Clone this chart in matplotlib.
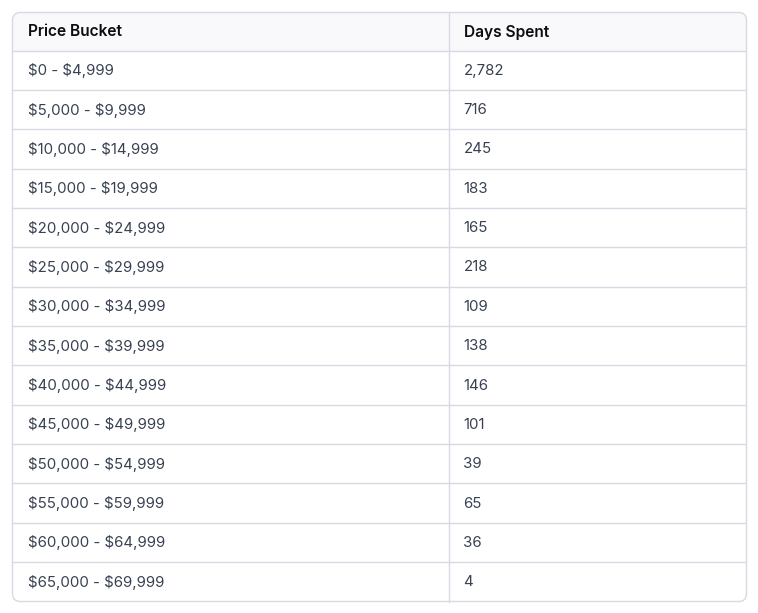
import matplotlib
matplotlib.use("Agg")
import matplotlib.pyplot as plt
from matplotlib.patches import FancyBboxPatch, Rectangle

headers = ["Price Bucket", "Days Spent"]
buckets = ["$0 - $4,999", "$5,000 - $9,999", "$10,000 - $14,999", "$15,000 - $19,999",
           "$20,000 - $24,999", "$25,000 - $29,999", "$30,000 - $34,999", "$35,000 - $39,999",
           "$40,000 - $44,999", "$45,000 - $49,999", "$50,000 - $54,999", "$55,000 - $59,999",
           "$60,000 - $64,999", "$65,000 - $69,999"]
days = [2782, 716, 245, 183, 165, 218, 109, 138, 146, 101, 39, 65, 36, 4]

W, H = 758, 613
fig = plt.figure(figsize=(W / 100, H / 100), dpi=100)
ax = fig.add_axes([0, 0, 1, 1])
ax.set_xlim(0, W)
ax.set_ylim(H, 0)
ax.axis("off")

left, right, top, bottom = 12.5, 746.5, 12.5, 601.5
header_h = 38
n = len(buckets)
row_h = (bottom - top - header_h) / n
col_x = 448.5
border = "#d9d9e3"
font = "Inter"

outer = FancyBboxPatch((left, top), right - left, bottom - top,
                       boxstyle="round,pad=0,rounding_size=8",
                       facecolor="white", edgecolor="none", zorder=1)
ax.add_patch(outer)
hdr = Rectangle((left, top), right - left, header_h, facecolor="#f9f9fb",
                edgecolor="none", zorder=2)
ax.add_patch(hdr)
hdr.set_clip_path(outer)

for i in range(n):
    y = top + header_h + i * row_h
    ln, = ax.plot([left, right], [y, y], color=border, lw=1, zorder=3)
    ln.set_clip_path(outer)
ax.plot([col_x, col_x], [top, bottom], color=border, lw=1, zorder=3)

frame = FancyBboxPatch((left, top), right - left, bottom - top,
                       boxstyle="round,pad=0,rounding_size=8",
                       facecolor="none", edgecolor=border, lw=1, zorder=4)
ax.add_patch(frame)

xs = [27.5, 463.5]
for j, h in enumerate(headers):
    ax.text(xs[j], top + header_h / 2 + 0.5, h, ha="left", va="center", fontsize=11.2,
            fontweight="semibold", color="#0d0d0d", family=font, zorder=5,
            parse_math=False)

for i, (b, d) in enumerate(zip(buckets, days)):
    yc = top + header_h + (i + 0.5) * row_h + 0.5
    ax.text(xs[0], yc, b, ha="left", va="center", fontsize=10.8, color="#374151",
            family=font, zorder=5, parse_math=False)
    ax.text(xs[1], yc, f"{d:,}", ha="left", va="center", fontsize=10.8, color="#374151",
            family=font, zorder=5, parse_math=False)

fig.savefig("out.png", dpi=100)
